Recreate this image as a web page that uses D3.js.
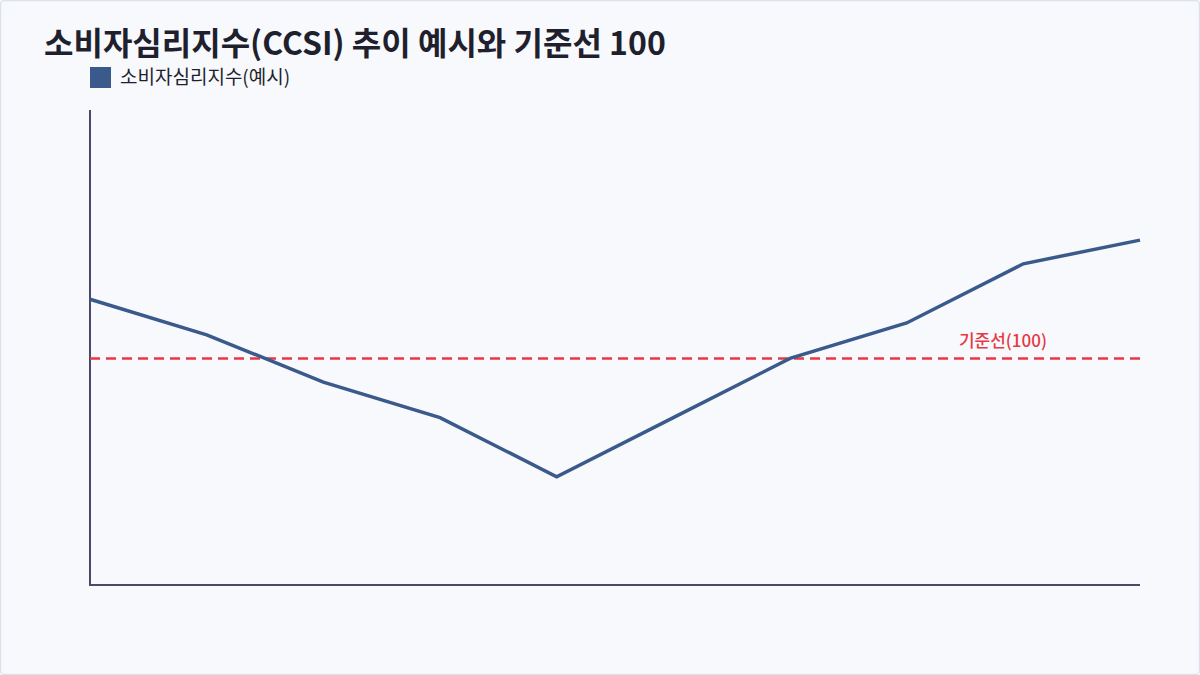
<!DOCTYPE html>
<html><head><meta charset="utf-8">
<script src="https://cdn.jsdelivr.net/npm/d3@7"></script>
<style>
html,body{margin:0;padding:0;background:#f7f9fc;}
svg{display:block;font-family:"Noto Sans CJK KR","Noto Sans",sans-serif;}
</style></head>
<body><svg id="c" width="1200" height="675"></svg>
<script>
const periods = ["P1","P2","P3","P4","P5","P6","P7","P8","P9","P10"];
const ccsiValues = [105, 102, 98, 95, 90, 95, 100, 103, 108, 110];
const baselineValue = 100;
const titleText = "소비자심리지수(CCSI) 추이 예시와 기준선 100";
const seriesName = "소비자심리지수(예시)";
const baselineLabel = "기준선(100)";

const svg = d3.select("#c");
const W = 1200, H = 675;
const m = {left: 90, right: 60, top: 110, bottom: 90};

svg.append("rect").attr("x",0.5).attr("y",0.5).attr("width",W-1).attr("height",H-1)
  .attr("rx",4).attr("fill","#f7f9fc").attr("stroke","#dde3ec").attr("stroke-width",1.5);

const x = d3.scalePoint().domain(periods).range([m.left, W - m.right]);
const y = d3.scaleLinear().domain([80.85, 121]).range([H - m.bottom, m.top]);

svg.append("text").attr("x",44).attr("y",55).attr("font-size",32).attr("font-weight",700)
  .attr("fill","#1f1f2e").text(titleText);

const lg = svg.append("g");
lg.append("rect").attr("x",90).attr("y",67).attr("width",21).attr("height",21).attr("fill","#3a5a8c");
lg.append("text").attr("x",120).attr("y",84).attr("font-size",19).attr("fill","#1f1f2e").text(seriesName);

// axes
const axisColor = "#4a4a68";
svg.append("line").attr("x1",m.left).attr("x2",m.left).attr("y1",m.top).attr("y2",H-m.bottom)
  .attr("stroke",axisColor).attr("stroke-width",2);
svg.append("line").attr("x1",m.left-1).attr("x2",W-m.right).attr("y1",H-m.bottom).attr("y2",H-m.bottom)
  .attr("stroke",axisColor).attr("stroke-width",2);

// baseline
svg.append("line").attr("x1",m.left).attr("x2",W-m.right)
  .attr("y1",y(baselineValue)).attr("y2",y(baselineValue))
  .attr("stroke","#e63946").attr("stroke-width",2.5).attr("stroke-dasharray","10,6");
svg.append("text").attr("x",W-m.right-93).attr("y",y(baselineValue)-11)
  .attr("text-anchor","end").attr("font-size",17).attr("fill","#e63946").attr("font-weight",500)
  .text(baselineLabel);

const line = d3.line().x((d,i)=>x(periods[i])).y(d=>y(d));
svg.append("path").datum(ccsiValues).attr("d",line).attr("fill","none")
  .attr("stroke","#3a5a8c").attr("stroke-width",3.5).attr("stroke-linejoin","miter");
</script></body></html>
